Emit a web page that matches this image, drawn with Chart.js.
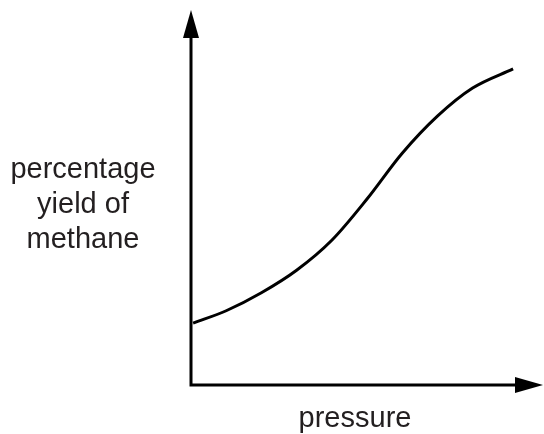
<!DOCTYPE html>
<html>
<head>
<meta charset="utf-8">
<script src="https://cdn.jsdelivr.net/npm/chart.js@4"></script>
<style>
  html, body { margin: 0; padding: 0; background: #fff; }
  #wrap { width: 544px; height: 434px; }
</style>
</head>
<body>
<div id="wrap"><canvas id="myChart"></canvas></div>
<script>
// pressure (arbitrary units) and yield (arbitrary units)
const pressure = [0.06, 1, 2, 3, 4, 5, 6, 7, 8, 9.15];
const yieldPct = [1.65, 1.98, 2.46, 3.06, 3.86, 4.96, 6.18, 7.17, 7.92, 8.43];

const yLabelLines = ['percentage', 'yield of', 'methane'];
const xLabel = 'pressure';

const points = pressure.map((p, i) => ({ x: p, y: yieldPct[i] }));

const axesPlugin = {
    id: 'arrowAxes',
    afterDraw(chart) {
        const ctx = chart.ctx;
        const xs = chart.scales.x;
        const ys = chart.scales.y;
        const ox = xs.getPixelForValue(0);
        const oy = ys.getPixelForValue(0);
        const top = ys.getPixelForValue(10);
        const right = xs.getPixelForValue(10);

        ctx.save();
        ctx.strokeStyle = '#000';
        ctx.fillStyle = '#000';
        ctx.lineWidth = 3;
        ctx.lineCap = 'square';
        ctx.beginPath();
        ctx.moveTo(ox, top + 20);
        ctx.lineTo(ox, oy);
        ctx.moveTo(ox, oy);
        ctx.lineTo(right - 20, oy);
        ctx.stroke();

        // arrow heads
        ctx.beginPath();
        ctx.moveTo(ox, top);
        ctx.lineTo(ox - 8, top + 28);
        ctx.lineTo(ox + 8, top + 28);
        ctx.closePath();
        ctx.fill();

        ctx.beginPath();
        ctx.moveTo(right, oy);
        ctx.lineTo(right - 28, oy - 8);
        ctx.lineTo(right - 28, oy + 8);
        ctx.closePath();
        ctx.fill();

        // labels
        ctx.font = '29px "Liberation Sans", Arial, sans-serif';
        ctx.fillStyle = '#231f20';
        ctx.textAlign = 'center';
        ctx.textBaseline = 'alphabetic';
        yLabelLines.forEach((line, i) => {
            ctx.fillText(line, 83, 178 + i * 35);
        });
        ctx.fillText(xLabel, 355, 427);
        ctx.restore();
    }
};

new Chart(document.getElementById('myChart'), {
    type: 'line',
    data: {
        datasets: [{
            data: points,
            borderColor: '#000',
            borderWidth: 3,
            pointRadius: 0,
            fill: false,
            cubicInterpolationMode: 'monotone'
        }]
    },
    options: {
        responsive: true,
        maintainAspectRatio: false,
        animation: false,
        layout: { padding: { left: 191, right: 1, top: 10, bottom: 49 } },
        plugins: {
            legend: { display: false },
            tooltip: { enabled: false }
        },
        scales: {
            x: { type: 'linear', min: 0, max: 10, display: false },
            y: { type: 'linear', min: 0, max: 10, display: false }
        }
    },
    plugins: [axesPlugin]
});
</script>
</body>
</html>
